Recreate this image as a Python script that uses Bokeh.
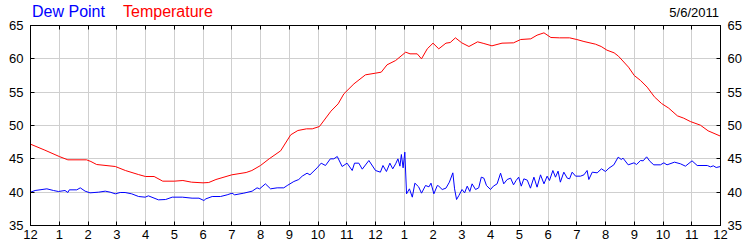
from bokeh.plotting import figure
from bokeh.models import Range1d, LinearAxis, FixedTicker, Div
from bokeh.layouts import column
from bokeh.embed import file_html
from bokeh.resources import INLINE

# ---- data ----
hour_labels = ["12", "1", "2", "3", "4", "5", "6", "7", "8", "9", "10", "11",
               "12", "1", "2", "3", "4", "5", "6", "7", "8", "9", "10", "11", "12"]
date_text = "5/6/2011"
series_names = ["Dew Point", "Temperature"]
series_colors = ["#0000ff", "#ff0000"]

temp_hours = [0, 0.5, 1.0, 1.3, 1.95, 2.1, 2.3, 2.95, 3.3, 3.75, 4.0, 4.3, 4.6, 5.0, 5.3, 5.6,
              6.0, 6.2, 6.45, 7.0, 7.5, 7.7, 8.0, 8.3, 8.7, 9.05, 9.3, 9.6, 9.8, 10.05, 10.45,
              10.7, 10.9, 11.25, 11.65, 12.0, 12.2, 12.4, 12.7, 13.05, 13.2, 13.45, 13.6, 13.8,
              14.0, 14.2, 14.45, 14.6, 14.78, 15.0, 15.25, 15.55, 15.77, 16.05, 16.4, 16.8,
              17.05, 17.4, 17.62, 17.86, 18.1, 18.4, 18.75, 19.0, 19.25, 19.65, 19.85, 20.05,
              20.3, 20.45, 20.8, 21.0, 21.22, 21.45, 21.7, 21.95, 22.2, 22.5, 22.72, 22.95,
              23.3, 23.57, 24.0]
temp_values = [47.2, 46.3, 45.35, 44.85, 44.85, 44.6, 44.15, 43.85, 43.25, 42.65, 42.35, 42.35,
               41.65, 41.65, 41.75, 41.5, 41.4, 41.45, 41.9, 42.6, 42.95, 43.25, 44.0, 45.0,
               46.2, 48.6, 49.25, 49.5, 49.5, 49.85, 52.15, 53.25, 54.75, 56.25, 57.6, 57.85,
               58.0, 59.1, 59.75, 61.0, 60.75, 60.75, 60.0, 61.5, 62.35, 61.5, 62.35, 62.45,
               63.15, 62.4, 61.85, 62.55, 62.3, 61.95, 62.35, 62.4, 62.9, 63.0, 63.55, 63.9,
               63.2, 63.15, 63.15, 62.9, 62.6, 62.2, 61.85, 61.3, 60.9, 60.4, 58.75, 57.5,
               56.75, 55.75, 54.3, 53.3, 52.6, 51.45, 51.1, 50.6, 50.05, 49.2, 48.4]

dew_hours = [0, 0.16, 0.57, 0.8, 0.97, 1.2, 1.3, 1.35, 1.61, 1.73, 1.9, 2.07, 2.37, 2.6, 2.77,
             2.95, 3.12, 3.29, 3.52, 3.76, 3.99, 4.1, 4.45, 4.7, 4.93, 5.28, 5.62, 5.86, 6.03,
             6.1, 6.32, 6.61, 6.84, 7.01, 7.1, 7.42, 7.71, 7.88, 7.97, 8.17, 8.35, 8.58, 8.81,
             8.93, 9.16, 9.33, 9.45, 9.62, 9.72, 9.97, 10.11, 10.26, 10.43, 10.55, 10.67, 10.84,
             11.01, 11.19, 11.27, 11.42, 11.54, 11.77, 12.0, 12.17, 12.26, 12.38, 12.5, 12.6,
             12.7, 12.78, 12.85, 12.9, 12.96, 13.02, 13.08, 13.18, 13.28, 13.37, 13.5, 13.6,
             13.74, 13.86, 13.93, 14.03, 14.15, 14.2, 14.32, 14.45, 14.57, 14.69, 14.75, 14.82,
             14.9, 15.01, 15.1, 15.19, 15.28, 15.36, 15.48, 15.59, 15.68, 15.77, 15.86, 16.0,
             16.1, 16.23, 16.35, 16.46, 16.58, 16.7, 16.8, 16.89, 16.98, 17.07, 17.16, 17.28,
             17.39, 17.51, 17.62, 17.74, 17.86, 17.97, 18.05, 18.17, 18.26, 18.35, 18.43, 18.55,
             18.67, 18.75, 18.84, 18.96, 19.13, 19.25, 19.36, 19.42, 19.54, 19.71, 19.86, 20.0,
             20.12, 20.29, 20.44, 20.55, 20.61, 20.79, 20.99, 21.08, 21.22, 21.31, 21.43, 21.55,
             21.68, 21.91, 22.03, 22.14, 22.4, 22.61, 22.78, 23.01, 23.19, 23.54, 23.65, 23.75,
             23.85, 24.0]
dew_values = [40.0, 40.25, 40.5, 40.25, 40.1, 40.25, 39.95, 40.35, 40.35, 40.65, 40.15, 39.9,
              40.0, 40.15, 40.0, 39.75, 39.95, 39.95, 39.75, 39.35, 39.25, 39.45, 38.85, 38.9,
              39.25, 39.25, 39.1, 39.1, 38.75, 39.0, 39.35, 39.35, 39.6, 39.85, 39.6, 39.85,
              40.15, 40.65, 40.5, 41.25, 40.5, 40.65, 40.65, 41.0, 41.6, 41.9, 42.4, 42.85, 42.6,
              43.65, 44.35, 44.0, 45.0, 45.0, 45.35, 43.85, 44.35, 43.25, 44.35, 44.35, 43.45,
              44.75, 43.25, 43.0, 44.0, 43.1, 44.35, 43.5, 44.25, 45.0, 43.9, 45.65, 43.65, 46.0,
              39.75, 40.5, 39.25, 41.35, 40.8, 39.85, 41.0, 40.8, 41.35, 39.75, 41.0, 40.9, 40.4,
              40.6, 41.5, 42.9, 40.5, 38.9, 39.5, 40.4, 39.9, 40.9, 40.1, 41.25, 40.4, 40.65,
              42.25, 42.1, 41.0, 40.4, 40.9, 41.25, 42.85, 41.25, 41.9, 42.1, 41.1, 41.75, 42.25,
              40.9, 42.0, 41.8, 40.6, 42.25, 40.75, 42.6, 41.25, 42.4, 41.75, 43.25, 42.25,
              43.15, 41.5, 43.0, 42.1, 42.0, 43.0, 42.4, 42.4, 42.6, 43.25, 41.9, 43.0, 42.9,
              43.5, 43.1, 43.6, 44.1, 45.25, 44.9, 45.1, 44.1, 44.4, 44.15, 44.75, 44.7, 45.3,
              44.6, 44.1, 44.1, 44.4, 44.1, 44.5, 44.25, 43.9, 44.7, 44.0, 44.0, 43.8, 43.95,
              43.7, 43.85]

# ---- layout constants ----
FONT = "Liberation Sans"
TOP_H = 18

# ---- header strip (legend texts and date) as HTML ----
span = ('<span style="position:absolute;{pos};top:{top}px;color:{color};'
        'font-family:\'Liberation Sans\';font-size:{size}px;line-height:{size}px;'
        'white-space:nowrap;">{text}</span>')
header_html = (
    '<div style="position:relative;width:750px;height:%dpx;overflow:visible;">' % TOP_H
    + span.format(pos="left:32px", top=3.5, color=series_colors[0], size=16, text=series_names[0])
    + span.format(pos="left:123px", top=3.5, color=series_colors[1], size=16, text=series_names[1])
    + span.format(pos="right:31px", top=5.6, color="black", size=13, text=date_text)
    + '</div>'
)
head = Div(text=header_html, width=750, height=TOP_H, margin=(0, 0, 0, 0),
           styles={"overflow": "visible"})

# ---- main chart ----
p = figure(width=750, height=250 - TOP_H, output_backend="svg", toolbar_location=None,
           x_range=Range1d(0, 24), y_range=Range1d(35, 65),
           min_border_left=30, min_border_right=30, min_border_top=25 - TOP_H,
           min_border_bottom=25,
           background_fill_color="white", border_fill_color=None)
p.outline_line_color = "black"
p.outline_line_width = 1

xt = FixedTicker(ticks=list(range(25)))
yt = FixedTicker(ticks=[35, 40, 45, 50, 55, 60, 65])

p.xaxis.ticker = xt
p.xaxis.major_label_overrides = {i: lab for i, lab in enumerate(hour_labels)}
p.yaxis.ticker = yt

for ax in (p.xaxis[0], p.yaxis[0]):
    ax.axis_line_color = "black"
    ax.major_tick_line_color = "black"
    ax.major_tick_in = 4
    ax.major_tick_out = 0
    ax.minor_tick_line_color = None
    ax.major_label_text_font = FONT
    ax.major_label_text_font_size = "13px"
    ax.major_label_text_color = "black"
p.xaxis.major_label_standoff = 4
p.yaxis.major_label_standoff = 7

right = LinearAxis(ticker=yt, axis_line_color="black", major_tick_line_color="black",
                   major_tick_in=4, major_tick_out=0, minor_tick_line_color=None,
                   major_label_text_font=FONT, major_label_text_font_size="13px",
                   major_label_text_color="black", major_label_standoff=7)
p.add_layout(right, "right")

# top edge: tick marks only, labels not drawn
top = LinearAxis(ticker=xt, axis_line_color="black", major_tick_line_color="black",
                 major_tick_in=4, major_tick_out=0, minor_tick_line_color=None,
                 major_label_text_color=None, major_label_text_font_size="0px",
                 major_label_standoff=0)
p.add_layout(top, "above")

p.xgrid.ticker = xt
p.ygrid.ticker = yt
p.grid.grid_line_color = "#cfcfcf"
p.grid.grid_line_width = 1

p.line(dew_hours, dew_values, line_color=series_colors[0], line_width=1)
p.line(temp_hours, temp_values, line_color=series_colors[1], line_width=1)

layout = column(head, p, spacing=0)
open("out.html", "w").write(file_html(layout, INLINE))
